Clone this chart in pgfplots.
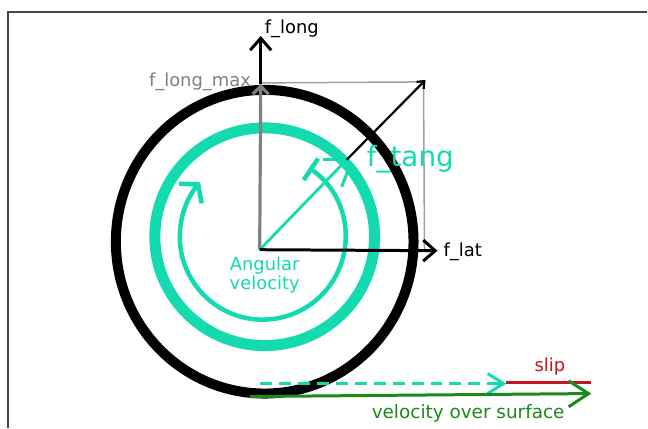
\documentclass[border=0pt]{standalone}
\usepackage{pgfplots}
\pgfplotsset{compat=1.18}
\usepackage{fontspec}
\setmainfont{DejaVu Sans}
\usetikzlibrary{arrows.meta}
\definecolor{tealc}{RGB}{20,218,176}
\definecolor{redc}{RGB}{196,20,30}
\definecolor{greenc}{RGB}{26,138,26}
\definecolor{grayc}{RGB}{128,128,128}
\definecolor{lgrayc}{RGB}{160,160,160}
\definecolor{framec}{RGB}{70,70,70}
\begin{document}
\begin{tikzpicture}
\begin{axis}[scale only axis, width=648bp, height=428bp,
  xmin=0, xmax=648, ymin=0, ymax=428, y dir=reverse,
  hide axis, clip=false, no markers]
\path (axis cs:0,0) rectangle (axis cs:648,428);
% frame
\addplot[framec, line width=1.5bp] coordinates {(648,12) (8,12) (8,428)};
% tire and ring
\draw[black, line width=10bp] (axis cs:265,242) ellipse [x radius=149bp, y radius=152bp];
\draw[tealc, line width=11bp] (axis cs:265,237) ellipse [x radius=110bp, y radius=109bp];
% angular velocity arc
\draw[tealc, line width=4.5bp, {Bar[width=26bp]}-{Straight Barb[length=12bp,width=30bp]}]
  (axis cs:263,237) ++(56:83bp) arc [start angle=56, end angle=-221, radius=83bp];
% small tangential strokes
\addplot[tealc, line width=3bp] coordinates {(323,160) (339,160)};
\addplot[tealc, line width=3bp] coordinates {(342,187) (348,172)};
% gray rectangle
\addplot[lgrayc, line width=1.5bp] coordinates {(262,83) (425,82)};
\addplot[lgrayc, line width=1.5bp] coordinates {(424,82) (425,250)};
% gray vertical (f_long_max)
\addplot[grayc, line width=3.2bp, -{Straight Barb[length=8bp,width=16bp]}] coordinates {(260,250) (261,84)};
% black vertical (f_long)
\addplot[black, line width=3bp, -{Straight Barb[length=12bp,width=21bp]}] coordinates {(261,84) (261,36)};
% diagonal
\addplot[tealc, line width=2.8bp] coordinates {(260,250) (347,160)};
\addplot[black, line width=2.2bp, -{Straight Barb[length=6bp,width=10bp]}] coordinates {(347,160) (426,80)};
% f_lat
\addplot[black, line width=3bp, -{Straight Barb[length=12bp,width=21bp]}] coordinates {(260,250) (438,251)};
% bottom arrows
\addplot[tealc, line width=3bp, dash pattern=on 12bp off 7bp] coordinates {(260,384) (495,384)};
\addplot[tealc, line width=3bp, -{Straight Barb[length=16bp,width=20bp]}] coordinates {(494,384) (507,384)};
\addplot[redc, line width=3bp] coordinates {(507,383) (592,383)};
\addplot[greenc, line width=3bp, -{Straight Barb[length=20bp,width=26bp]}] coordinates {(250,397) (592,394)};
% labels
\node[anchor=base west, inner sep=0pt, font=\fontsize{18}{20}\selectfont, black] at (axis cs:265,34) {f\_long};
\node[anchor=base west, inner sep=0pt, font=\fontsize{18}{20}\selectfont, grayc] at (axis cs:149,87) {f\_long\_max};
\node[anchor=base west, inner sep=0pt, font=\fontsize{18}{20}\selectfont, black] at (axis cs:444,257) {f\_lat};
\node[anchor=base west, inner sep=0pt, font=\fontsize{28}{30}\selectfont, tealc] at (axis cs:367,167) {f\_tang};
\node[anchor=base, inner sep=0pt, font=\fontsize{18}{20}\selectfont, tealc] at (axis cs:265,271) {Angular};
\node[anchor=base, inner sep=0pt, font=\fontsize{18}{20}\selectfont, tealc] at (axis cs:265,290) {velocity};
\node[anchor=base west, inner sep=0pt, font=\fontsize{18}{20}\selectfont, redc] at (axis cs:535,372) {slip};
\node[anchor=base west, inner sep=0pt, font=\fontsize{18.5}{20}\selectfont, greenc] at (axis cs:372,419) {velocity over surface};
\end{axis}
\end{tikzpicture}
\end{document}
